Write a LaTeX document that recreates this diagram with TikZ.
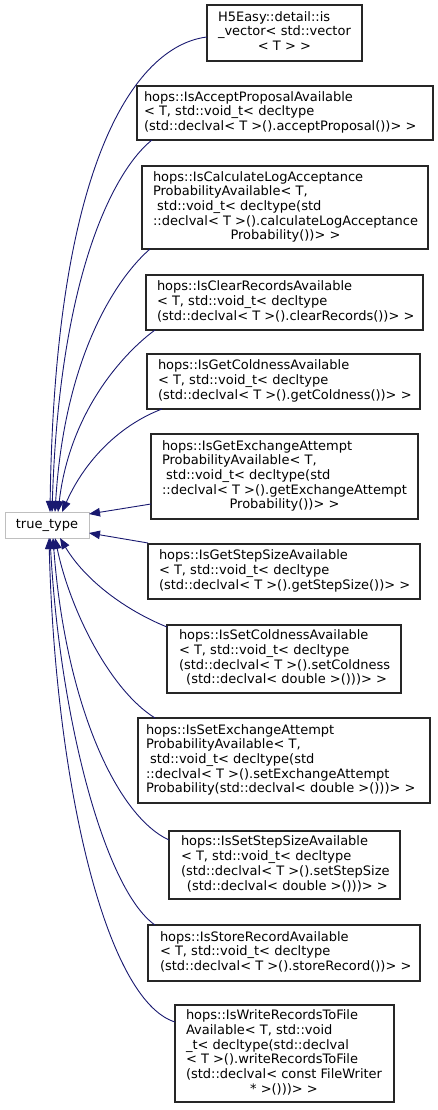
\documentclass[tikz,border=0pt]{standalone}
\usepackage{fontspec}
\setmainfont{DejaVu Sans}
\usetikzlibrary{arrows.meta,calc}
\definecolor{edgeblue}{HTML}{191970}
\definecolor{ttgray}{HTML}{BFBFBF}
\tikzset{
  lbl/.style={font=\fontsize{13pt}{14.7pt}\selectfont},
  cls/.style={lbl, draw=black!85, line width=1.1pt, inner sep=0pt, outer sep=0pt},
  base/.style={lbl, draw=ttgray, line width=1pt, inner sep=0pt, outer sep=0pt,
    minimum width=84pt, minimum height=26pt},
  inh/.style={draw=edgeblue, line width=0.9pt, -{Triangle[length=11pt,width=8.5pt]}}
}
% name, left, top, right, bottom, pad, body
\newcommand\clsnode[7]{%
  \node[cls, minimum width={(#4-#2)*1pt}, minimum height={(#5-#3)*1pt}] (#1)
    at ({(#2+#4)/2},{(#3+#5)/2})
    {\makebox[\dimexpr #4pt-#2pt\relax][l]{\hspace*{#6pt}\begin{tabular}{@{}l@{}}#7\end{tabular}}};}
\newcommand\cl[1]{\multicolumn{1}{@{}c@{}}{#1}}
\begin{document}
\begin{tikzpicture}[x=1pt,y=-1pt]
\useasboundingbox (0,0) rectangle (437,1110);

\node[base] (tt) at (47,525) {true\_type};

\clsnode{b1}{207}{5}{362}{61}{11}{H5Easy::detail::is\\ \_vector< std::vector\\ \cl{< T > >}}
\clsnode{b2}{137}{86}{433}{140}{7}{hops::IsAcceptProposalAvailable\\ < T, std::void\_t< decltype\\ \cl{(std::declval< T >().acceptProposal())> >}}
\clsnode{b3}{142}{166}{428}{249}{11}{hops::IsCalculateLogAcceptance\\ ProbabilityAvailable< T,\\ \ std::void\_t< decltype(std\\ ::declval< T >().calculateLogAcceptance\\ \cl{Probability())> >}}
\clsnode{b4}{146}{275}{423}{330}{11}{hops::IsClearRecordsAvailable\\ < T, std::void\_t< decltype\\ \cl{(std::declval< T >().clearRecords())> >}}
\clsnode{b5}{147}{354}{420}{409}{11}{hops::IsGetColdnessAvailable\\ < T, std::void\_t< decltype\\ \cl{(std::declval< T >().getColdness())> >}}
\clsnode{b6}{151}{434}{418}{519}{11}{hops::IsGetExchangeAttempt\\ ProbabilityAvailable< T,\\ \ std::void\_t< decltype(std\\ ::declval< T >().getExchangeAttempt\\ \cl{Probability())> >}}
\clsnode{b7}{148}{544}{420}{599}{11}{hops::IsGetStepSizeAvailable\\ < T, std::void\_t< decltype\\ \cl{(std::declval< T >().getStepSize())> >}}
\clsnode{b8}{167}{625}{401}{693}{12}{hops::IsSetColdnessAvailable\\ < T, std::void\_t< decltype\\ (std::declval< T >().setColdness\\ \cl{\ (std::declval< double >()))> >}}
\clsnode{b9}{138}{718}{430}{803}{8}{hops::IsSetExchangeAttempt\\ ProbabilityAvailable< T,\\ \ std::void\_t< decltype(std\\ ::declval< T >().setExchangeAttempt\\ \cl{Probability(std::declval< double >()))> >}}
\clsnode{b10}{169}{831}{400}{899}{12}{hops::IsSetStepSizeAvailable\\ < T, std::void\_t< decltype\\ (std::declval< T >().setStepSize\\ \cl{\ (std::declval< double >()))> >}}
\clsnode{b11}{148}{925}{420}{981}{12}{hops::IsStoreRecordAvailable\\ < T, std::void\_t< decltype\\ \cl{(std::declval< T >().storeRecord())> >}}
\clsnode{b12}{175}{1005}{394}{1102}{11}{hops::IsWriteRecordsToFile\\ Available< T, std::void\\ \_t< decltype(std::declval\\ < T >().writeRecordsToFile\\ (std::declval< const FileWriter\\ \cl{* >()))> >}}

\draw[inh] ($(b1.west)+(0,4)$) .. controls (140,45) and (55,150) .. ($(tt.north)+(3,0)$);
\draw[inh] ($(b2.south west)+(15,0)$) .. controls (120,165) and (60,260) .. ($(tt.north)+(5,0)$);
\draw[inh] ($(b3.south west)+(8,0)$) .. controls (120,275) and (65,350) .. ($(tt.north)+(8,0)$);
\draw[inh] ($(b4.south west)+(9,0)$) .. controls (125,352) and (70,410) .. ($(tt.north)+(11,0)$);
\draw[inh] ($(b5.south west)+(15,0)$) .. controls (120,425) and (85,460) .. ($(tt.north)+(15,0)$);
\draw[inh] ($(b6.south west)+(0,-15)$) -- ($(tt.east)+(0,-11)$);
\draw[inh] ($(b7.north west)+(0,-1)$) -- ($(tt.east)+(0,8)$);
\draw[inh] ($(b8.north west)+(0,2)$) .. controls (125,610) and (85,580) .. ($(tt.south)+(13,0)$);
\draw[inh] ($(b9.north west)+(17,0)$) .. controls (110,690) and (70,610) .. ($(tt.south)+(8,0)$);
\draw[inh] ($(b10.north west)+(0,9)$) .. controls (115,815) and (65,700) .. ($(tt.south)+(6,0)$);
\draw[inh] ($(b11.north west)+(7,0)$) .. controls (105,890) and (60,720) .. ($(tt.south)+(3,0)$);
\draw[inh] ($(b12.north west)+(0,17)$) .. controls (105,1000) and (55,780) .. ($(tt.south)+(2,0)$);
\end{tikzpicture}
\end{document}
